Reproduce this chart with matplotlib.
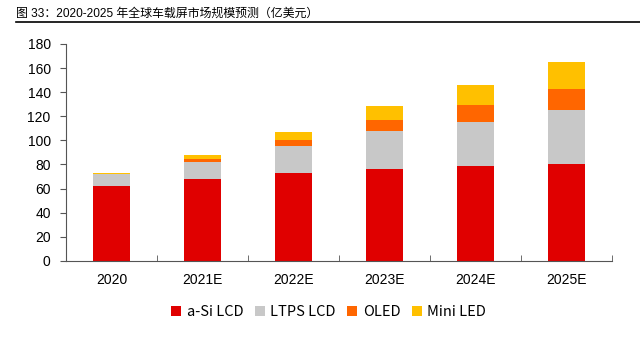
import matplotlib
matplotlib.use('Agg')
import matplotlib.pyplot as plt
from matplotlib.lines import Line2D
import numpy as np

# data (100M USD)
years = ['2020', '2021E', '2022E', '2023E', '2024E', '2025E']
a_si_lcd = [62.0, 68.0, 72.7, 76.3, 78.5, 80.7]
ltps_lcd = [10.0, 14.4, 22.4, 31.3, 37.1, 44.3]
oled = [0.5, 2.2, 5.0, 9.4, 13.8, 18.0]
mini_led = [0.6, 3.1, 7.2, 11.3, 16.3, 22.3]
series_names = ['a-Si LCD', 'LTPS LCD', 'OLED', 'Mini LED']
colors = ['#E00000', '#C8C8C8', '#FF6600', '#FFC000']
title = '图 33：2020-2025 年全球车载屏市场规模预测（亿美元）'


def main():
    plt.rcParams['font.family'] = ['Liberation Sans', 'Noto Sans CJK SC', 'DejaVu Sans']
    fig = plt.figure(figsize=(6.4, 3.38), dpi=100)
    ax = fig.add_axes([0.103, 0.228, 0.853, 0.642])

    x = np.arange(len(years))
    bottom = np.zeros(len(years))
    for vals, name, c in zip([a_si_lcd, ltps_lcd, oled, mini_led], series_names, colors):
        ax.bar(x, vals, width=0.4, bottom=bottom, color=c, label=name, linewidth=0)
        bottom += np.array(vals)

    ax.set_xlim(-0.5, len(years) - 0.5)
    ax.set_ylim(0, 180)
    ax.set_yticks(range(0, 181, 20))
    ax.set_xticks(x)
    ax.set_xticklabels(years, fontsize=10)
    ax.set_xticks(np.arange(-0.5, len(years), 1), minor=True)
    ax.tick_params(axis='x', which='major', length=0, pad=9)
    ax.tick_params(axis='x', which='minor', direction='in', length=4, color='#555555')
    ax.tick_params(axis='y', direction='out', length=4, color='#555555', labelsize=10, pad=7)

    for s in ['top', 'right']:
        ax.spines[s].set_visible(False)
    for s in ['left', 'bottom']:
        ax.spines[s].set_color('#555555')
        ax.spines[s].set_linewidth(0.8)

    handles = [Line2D([], [], marker='s', linestyle='', markersize=7,
                      markerfacecolor=c, markeredgewidth=0) for c in colors]
    fig.legend(handles, series_names, loc='center', bbox_to_anchor=(0.513, 0.078), ncol=4,
               frameon=False, handlelength=0.8, handletextpad=0.3,
               columnspacing=0.75, prop={'family': ['Noto Sans CJK SC'], 'size': 10.5})

    fig.text(0.025, 0.958, title, fontsize=8.6, va='center', ha='left',
             family=['Liberation Sans', 'Noto Sans CJK SC'])
    fig.add_artist(Line2D([0.025, 1.0], [0.935, 0.935], color='black', linewidth=1.2,
                          transform=fig.transFigure))

    fig.savefig('out.png', dpi=100)


if __name__ == '__main__':
    main()
